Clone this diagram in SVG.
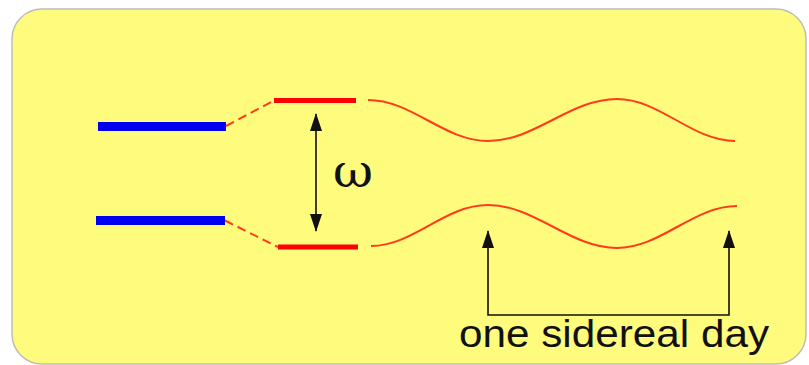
<svg xmlns="http://www.w3.org/2000/svg" width="809" height="365" viewBox="0 0 809 365">
<defs>
<style>
.lvl-blue{stroke:#0000EE;stroke-width:9;fill:none}
.lvl-red{stroke:#FF0000;stroke-width:5;fill:none}
.dash{stroke:#FF3B1A;stroke-width:2;fill:none;stroke-dasharray:9 5}
.wave{stroke:#FF3B1A;stroke-width:2;fill:none}
.arr{stroke:#111;stroke-width:1.6;fill:none}
</style>
<marker id="ah2" viewBox="0 0 18 12" refX="17" refY="6" markerWidth="18" markerHeight="12" markerUnits="userSpaceOnUse" orient="auto-start-reverse">
<path d="M0,0 L18,6 L0,12 Z" fill="#111"/>
</marker>
</defs>
<rect x="12" y="9" width="794" height="355" rx="30" ry="30" fill="#FFFB7C" stroke="#BDBDBD" stroke-width="1.5"/>
<g id="levels-unperturbed">
<line class="lvl-blue" x1="98" y1="126.5" x2="226" y2="126.5"/>
<line class="lvl-blue" x1="96" y1="220.5" x2="225" y2="220.5"/>
</g>
<g id="levels-split">
<line class="lvl-red" x1="274" y1="100.5" x2="356" y2="100.5"/>
<line class="lvl-red" x1="278" y1="247" x2="358" y2="247"/>
</g>
<g id="connectors">
<line class="dash" x1="226" y1="126" x2="274" y2="100.5"/>
<line class="dash" x1="225" y1="220.5" x2="278" y2="247"/>
<path class="wave" d="M368,100 C412,100 444,141 488,141 C535,141 570,99 617,99 C660,99 692,141 735,141"/>
<path class="wave" d="M371,246 C414,246 444,205 488,205 C535,205 570,248 617,248 C661,248 693,206 737,206"/>
<line class="arr" x1="316" y1="114" x2="316" y2="231" marker-start="url(#ah2)" marker-end="url(#ah2)"/>
<path class="arr" d="M488,231 L488,315 L729,315 L729,231" marker-start="url(#ah2)" marker-end="url(#ah2)"/>
</g>
<g id="label-omega">
<text x="333" y="187" font-family="DejaVu Serif, serif" font-size="46" textLength="40" lengthAdjust="spacingAndGlyphs" fill="#111">ω</text>
</g>
<g id="label-day">
<text x="459" y="347" font-family="Liberation Sans, Arial, sans-serif" font-size="38" textLength="310" lengthAdjust="spacingAndGlyphs" fill="#111">one sidereal day</text>
</g>
</svg>
